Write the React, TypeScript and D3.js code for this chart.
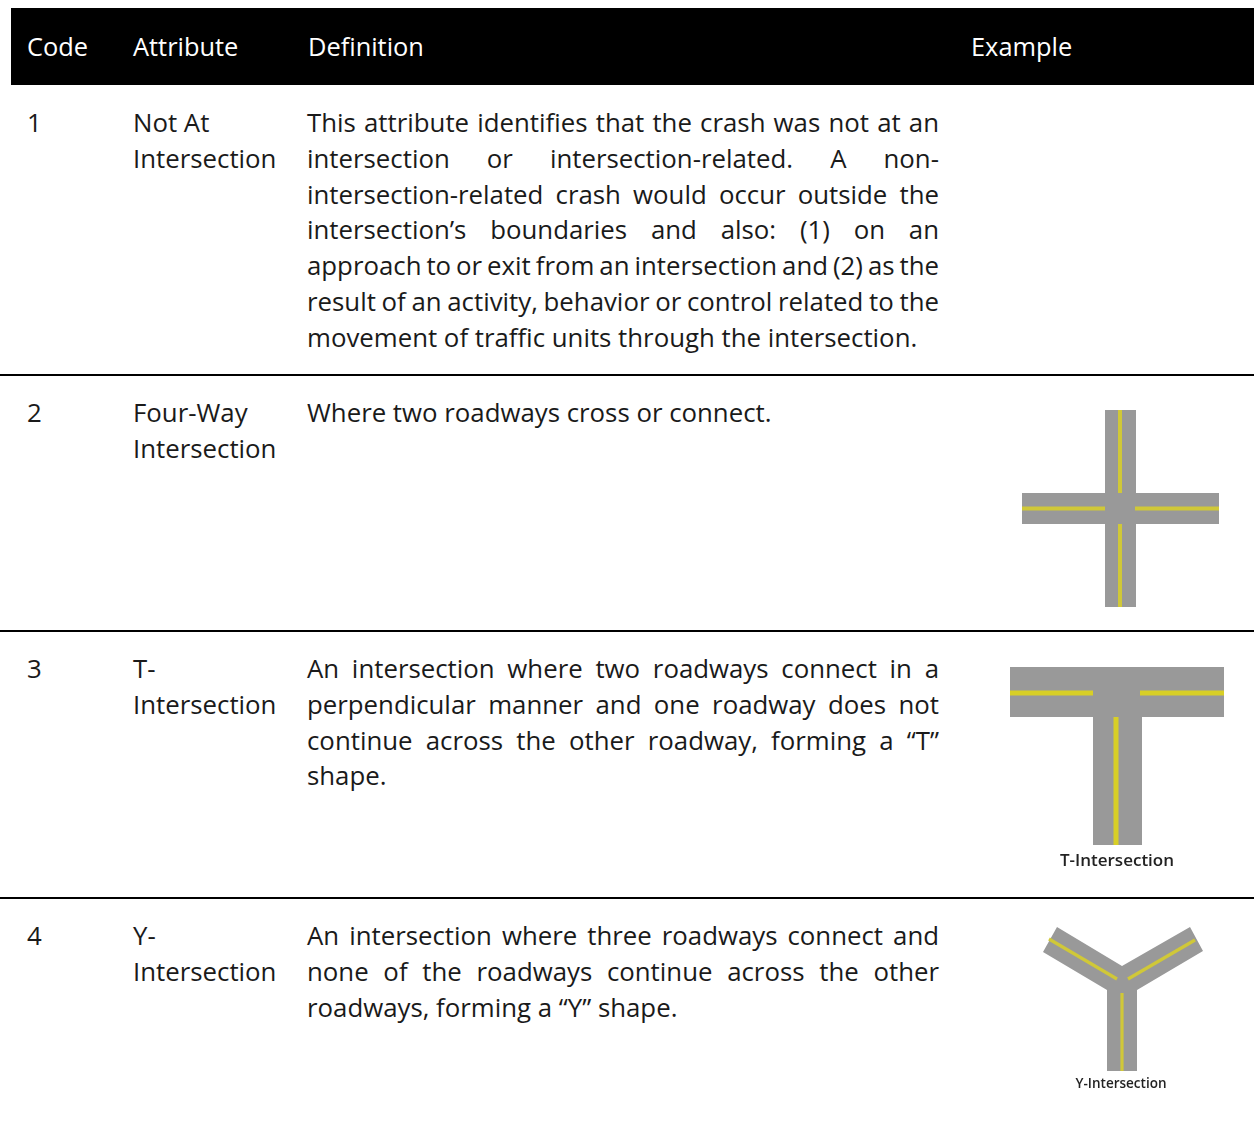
import React, { useEffect, useRef } from "react";
import * as d3 from "d3";

// table content
const headers = ["Code", "Attribute", "Definition", "Example"];
const headerX = [27, 133, 308, 971];
const codes = ["1", "2", "3", "4"];
const attributes = [
  ["Not At", "Intersection"],
  ["Four-Way", "Intersection"],
  ["T-", "Intersection"],
  ["Y-", "Intersection"],
];
// last line of each definition is left aligned, the others are justified
const definitions = [
  [
    "This attribute identifies that the crash was not at an",
    "intersection or intersection-related. A non-",
    "intersection-related crash would occur outside the",
    "intersection’s boundaries and also: (1) on an",
    "approach to or exit from an intersection and (2) as the",
    "result of an activity, behavior or control related to the",
    "movement of traffic units through the intersection.",
  ],
  ["Where two roadways cross or connect."],
  [
    "An intersection where two roadways connect in a",
    "perpendicular manner and one roadway does not",
    "continue across the other roadway, forming a “T”",
    "shape.",
  ],
  [
    "An intersection where three roadways connect and",
    "none of the roadways continue across the other",
    "roadways, forming a “Y” shape.",
  ],
];
const rowBaselines = [132, 422, 678, 945];
const ruleY = [375, 631, 898];

const FONT = "'Open Sans', sans-serif";
const FONT_SIZE = 25.8;
const HEAD_SIZE = 25.4;
const LINE = 35.8;
const DEF_X = 307;
const DEF_RIGHT = 939;

const ROAD = "#999999";
const PAINT = "#d0c838";

const App = () => {
  const svgRef = useRef<SVGSVGElement>(null);

  useEffect(() => {
    const svg = d3.select(svgRef.current);
    svg.selectAll("*").remove();

    const defs = svg.append("defs");
    defs
      .append("filter")
      .attr("id", "soft")
      .append("feGaussianBlur")
      .attr("stdDeviation", 0.6);
    defs
      .append("filter")
      .attr("id", "softText")
      .append("feGaussianBlur")
      .attr("stdDeviation", 0.35);

    svg.append("rect").attr("x", 11).attr("y", 8).attr("width", 1243).attr("height", 77).attr("fill", "#000");

    svg
      .selectAll("text.head")
      .data(headers)
      .join("text")
      .attr("class", "head")
      .attr("x", (d, i) => headerX[i])
      .attr("y", 56)
      .attr("fill", "#fff")
      .attr("font-family", FONT)
      .attr("font-size", HEAD_SIZE)
      .text((d) => d);

    svg
      .selectAll("line.rule")
      .data(ruleY)
      .join("line")
      .attr("class", "rule")
      .attr("x1", 0)
      .attr("x2", 1254)
      .attr("y1", (d) => d)
      .attr("y2", (d) => d)
      .attr("stroke", "#000")
      .attr("stroke-width", 2);

    const body = svg.append("g").attr("font-family", FONT).attr("font-size", FONT_SIZE).attr("fill", "#1a1a1a");

    codes.forEach((code, r) => {
      const y0 = rowBaselines[r];
      body.append("text").attr("x", 27).attr("y", y0).text(code);
      attributes[r].forEach((t, i) => {
        body.append("text").attr("x", 133).attr("y", y0 + i * LINE).text(t);
      });
      definitions[r].forEach((t, i) => {
        const line = body.append("text").attr("x", DEF_X).attr("y", y0 + i * LINE).text(t);
        // justify: stretch the word gaps to reach the right edge
        if (i < definitions[r].length - 1) {
          const node = line.node() as SVGTextElement;
          const gaps = t.split(" ").length - 1;
          const spare = DEF_RIGHT - DEF_X - node.getComputedTextLength();
          line.attr("word-spacing", spare / gaps);
        }
      });
    });

    const lineGen = d3.line();

    // four-way
    const four = svg.append("g").attr("filter", "url(#soft)");
    four.append("rect").attr("x", 1105).attr("y", 410).attr("width", 31).attr("height", 197).attr("fill", ROAD);
    four.append("rect").attr("x", 1022).attr("y", 493).attr("width", 197).attr("height", 31).attr("fill", ROAD);
    [
      [[1120, 410], [1120, 493]],
      [[1120, 524], [1120, 607]],
      [[1022, 508.5], [1105, 508.5]],
      [[1135, 508.5], [1219, 508.5]],
    ].forEach((p) => {
      four.append("path").attr("d", lineGen(p as [number, number][])).attr("stroke", PAINT).attr("stroke-width", 4).attr("fill", "none");
    });

    // T
    const tee = svg.append("g").attr("filter", "url(#soft)");
    tee.append("rect").attr("x", 1010).attr("y", 667).attr("width", 214).attr("height", 50).attr("fill", ROAD);
    tee.append("rect").attr("x", 1093).attr("y", 667).attr("width", 49).attr("height", 178).attr("fill", ROAD);
    [
      [[1010, 693], [1093, 693]],
      [[1140, 693], [1224, 693]],
      [[1116, 717], [1116, 845]],
    ].forEach((p) => {
      tee.append("path").attr("d", lineGen(p as [number, number][])).attr("stroke", "#d8cf28").attr("stroke-width", 5).attr("fill", "none");
    });
    svg.append("text").attr("filter", "url(#softText)").attr("x", 1117).attr("y", 866).attr("text-anchor", "middle").attr("font-family", FONT).attr("font-size", 17).attr("font-weight", 600).attr("fill", "#222").text("T-Intersection");

    // Y
    const wye = svg.append("g").attr("filter", "url(#soft)");
    const wyeShape: [number, number][] = [
      [1057, 927], [1122, 966], [1190, 927], [1203, 951], [1137, 990],
      [1137, 1071], [1107, 1071], [1107, 990], [1043, 952],
    ];
    wye.append("path").attr("d", lineGen(wyeShape) + "Z").attr("fill", ROAD);
    [
      [[1049, 939], [1117, 979]],
      [[1195, 940], [1128, 979]],
      [[1122, 993], [1122, 1071]],
    ].forEach((p) => {
      wye.append("path").attr("d", lineGen(p as [number, number][])).attr("stroke", PAINT).attr("stroke-width", 3.2).attr("fill", "none");
    });
    svg.append("text").attr("filter", "url(#softText)").attr("x", 1121).attr("y", 1088).attr("text-anchor", "middle").attr("font-family", FONT).attr("font-size", 13.5).attr("font-weight", 600).attr("fill", "#222").text("Y-Intersection");
  }, []);

  return (
    <svg
      ref={svgRef}
      width={1254}
      height={1121}
      style={{ position: "absolute", left: 0, top: 0, background: "#fff" }}
    />
  );
};

export default App;
